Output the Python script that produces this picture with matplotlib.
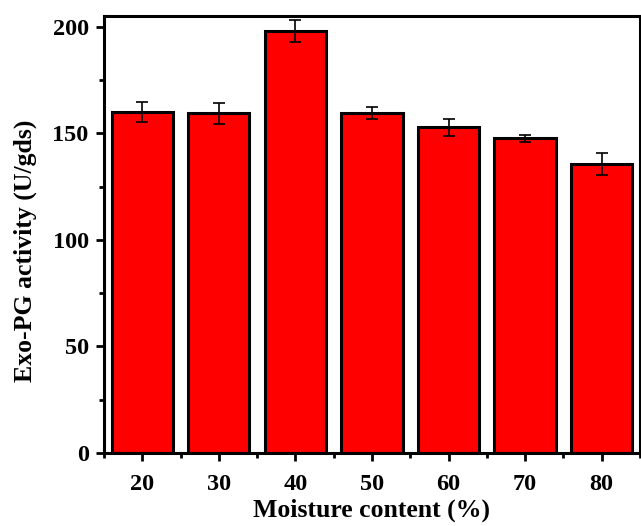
import matplotlib
matplotlib.use('Agg')
import matplotlib.pyplot as plt
from matplotlib.ticker import MultipleLocator, FixedLocator

plt.rcParams['font.family'] = ['Liberation Serif', 'DejaVu Serif']
plt.rcParams['font.weight'] = 'bold'

moisture = [20, 30, 40, 50, 60, 70, 80]
activity = [160.0, 159.3, 198.0, 159.5, 152.8, 147.7, 135.6]
errors = [4.7, 5.0, 5.1, 2.8, 4.0, 1.6, 5.2]

fig = plt.figure(figsize=(6.41, 5.26), dpi=100)
ax = fig.add_axes([0.1622, 0.1388, 0.8362, 0.8308])

ax.bar(moisture, activity, width=8, color='#ff0000', edgecolor='black',
       linewidth=2.2, zorder=2)
ax.errorbar(moisture, activity, yerr=errors, fmt='none', ecolor='black',
            elinewidth=1.2, capsize=4, capthick=1.2, zorder=3)

ax.set_xlim(15, 85)
ax.set_ylim(0, 205)
ax.set_xticks(moisture)
ax.xaxis.set_minor_locator(FixedLocator([15, 25, 35, 45, 55, 65, 75, 85]))
ax.yaxis.set_major_locator(MultipleLocator(50))
ax.yaxis.set_minor_locator(MultipleLocator(25))

for s in ax.spines.values():
    s.set_linewidth(2.2)
ax.tick_params(which='major', direction='out', length=6, width=2,
               labelsize=17.5)
ax.tick_params(axis='x', which='major', pad=9)
ax.tick_params(axis='y', which='major', pad=5)
ax.tick_params(which='minor', direction='out', length=3.5, width=2)
for lbl in ax.get_xticklabels() + ax.get_yticklabels():
    lbl.set_fontweight('bold')

ax.set_xlabel('Moisture content (%)', fontsize=18.5, fontweight='bold')
ax.set_ylabel('Exo-PG activity (U/gds)', fontsize=18.5, fontweight='bold')
ax.xaxis.set_label_coords(0.5, -0.105)
ax.yaxis.set_label_coords(-0.125, 0.462)

fig.savefig('out.png', dpi=100)
